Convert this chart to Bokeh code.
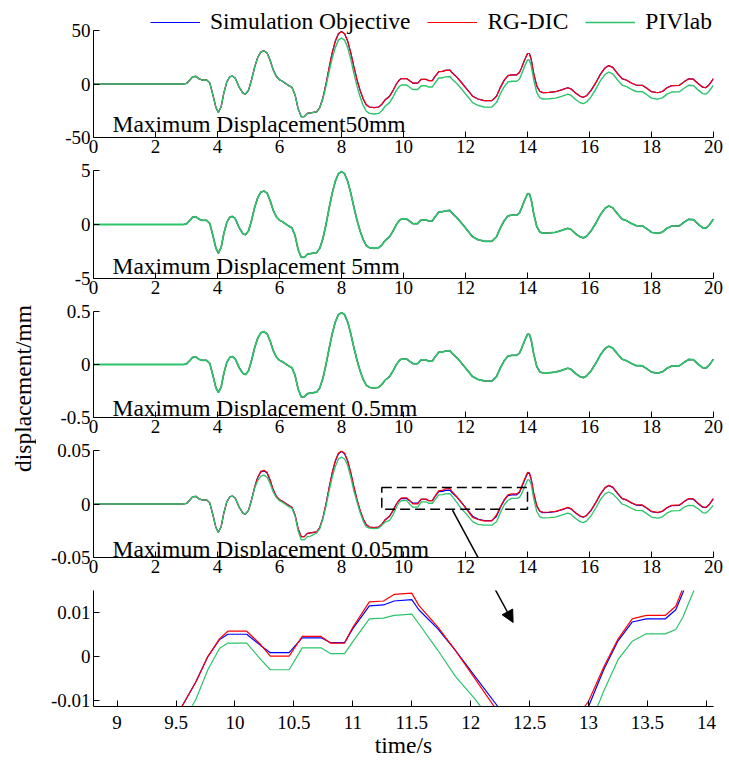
import math
from bokeh.plotting import figure
from bokeh.layouts import column, row
from bokeh.models import (Range1d, FixedTicker, CustomJSTickFormatter, Label, Legend,
                          LegendItem, Arrow, NormalHead, BoxAnnotation)
from bokeh.embed import file_html
from bokeh.resources import INLINE

# ---------------- data ----------------
time_s = [0, 2.9, 3.0, 3.1, 3.2, 3.3, 3.4, 3.5, 3.65, 3.75,
          3.85, 3.95, 4.03, 4.12, 4.2, 4.3, 4.4, 4.48, 4.57, 4.7,
          4.82, 4.9, 5.0, 5.1, 5.2, 5.3, 5.4, 5.5, 5.6, 5.7,
          5.8, 5.9, 6.0, 6.1, 6.2, 6.3, 6.4, 6.5, 6.6, 6.7,
          6.8, 6.9, 7.0, 7.2, 7.3, 7.4, 7.5, 7.6, 7.7, 7.8,
          7.9, 8.0, 8.1, 8.2, 8.3, 8.4, 8.5, 8.6, 8.7, 8.8,
          8.9, 9.05, 9.2, 9.3, 9.4, 9.55, 9.67, 9.77, 9.87, 9.94,
          10.1, 10.22, 10.3, 10.46, 10.57, 10.73, 10.81, 10.93, 11.0, 11.14,
          11.26, 11.35, 11.5, 11.56, 11.72, 11.87, 12.03, 12.23, 12.4, 12.6,
          12.85, 13.0, 13.13, 13.25, 13.37, 13.49, 13.65, 13.74, 13.8, 13.9,
          14.0, 14.06, 14.12, 14.2, 14.3, 14.4, 14.5, 14.7, 14.9, 15.1,
          15.3, 15.4, 15.55, 15.7, 15.8, 15.9, 16.05, 16.2, 16.35, 16.5,
          16.62, 16.75, 16.9, 17.05, 17.2, 17.35, 17.5, 17.7, 17.85, 18.0,
          18.2, 18.35, 18.5, 18.65, 18.9, 19.05, 19.2, 19.35, 19.5, 19.65,
          19.75, 19.85, 20.0]

sim_50 = [0, 0, 0.5, 3.5, 6.8, 7.2, 5, 3.8, 3.8, 1,
          -10, -22, -26.5, -21, -9, 2, 6.8, 7.5, 5.5, -3,
          -8.5, -9.5, -6, 4, 16, 25, 30, 31, 29, 22,
          13, 7, 4, 2.5, 0.5, -1.5, -3, -10, -23, -30.5,
          -30.5, -27.5, -27, -26, -22, -13, 0, 15, 29, 40,
          47, 49, 47, 40, 29, 16, 4, -6, -14, -19.5,
          -21.5, -22, -21.5, -19, -15, -11.4, -5.7, 0, 3.9, 5.1,
          5.1, 2.5, 0.9, 0.9, 4.3, 4.3, 3.2, 3.2, 6.4, 11.6,
          11.8, 12.7, 13, 10.7, 6.4, 1.4, -4.3, -11.4, -14, -15.5,
          -15.6, -11.4, -2.9, 3.6, 7.9, 8.6, 8.6, 10.7, 14.6, 22,
          28.5, 28.5, 23, 10, -2, -7, -8, -7.8, -7.2, -5.5,
          -3.5, -4.5, -8.5, -11.5, -12.4, -11, -6, 1, 9, 15,
          17.2, 15.5, 10, 5, 3.5, 1, -1, -1.2, -4, -7.2,
          -8.2, -7, -3.5, -1.5, -1.2, 2, 4.8, 4.5, 0.5, -3,
          -3.5, -1, 5]

piv_50 = [0, 0, 0.5, 3.5, 6.8, 7.2, 5, 3.8, 3.8, 1,
          -10, -22, -26.5, -21, -9, 2, 6.8, 7.5, 5.5, -3,
          -8.5, -9.5, -6, 4, 16, 25, 30, 31, 29, 22,
          13, 7, 4, 2.5, 0.5, -1.5, -3, -10, -23, -30.5,
          -30.5, -27.5, -27, -26, -22, -14, -2, 11.5, 24, 34,
          41, 43, 41, 34, 23, 10, -2, -12, -20, -25.5,
          -27.5, -28, -27.5, -25, -21, -17.4, -11.7, -6, -2.1, -0.9,
          -0.9, -3.5, -5.1, -5.1, -1.7, -1.7, -2.8, -2.8, 0.4, 5.6,
          5.8, 6.7, 7, 4.7, 0.4, -4.6, -10.3, -17.4, -20, -21.5,
          -21.6, -17.4, -8.9, -2.4, 1.9, 2.6, 2.6, 4.7, 8.6, 16,
          22.5, 22.5, 17, 4, -8, -13, -14, -13.8, -13.2, -11.5,
          -9.5, -10.5, -14.5, -17.5, -18.4, -17, -12, -5, 3, 9,
          11.2, 9.5, 4, -1, -2.5, -5, -7, -7.2, -10, -13.2,
          -14.2, -13, -9.5, -7.5, -7.2, -4, -1.2, -1.5, -5.5, -9,
          -9.5, -7, -1]

sim_5 = [0, 0, 0.05, 0.35, 0.68, 0.72, 0.5, 0.38, 0.38, 0.1,
         -1.0, -2.2, -2.65, -2.1, -0.9, 0.2, 0.68, 0.75, 0.55, -0.3,
         -0.85, -0.95, -0.6, 0.4, 1.6, 2.5, 3.0, 3.1, 2.9, 2.2,
         1.3, 0.7, 0.4, 0.25, 0.05, -0.15, -0.3, -1.0, -2.3, -3.05,
         -3.05, -2.75, -2.7, -2.6, -2.2, -1.3, 0.0, 1.5, 2.9, 4.0,
         4.7, 4.9, 4.7, 4.0, 2.9, 1.6, 0.4, -0.6, -1.4, -1.95,
         -2.15, -2.2, -2.15, -1.9, -1.5, -1.14, -0.57, 0.0, 0.39, 0.51,
         0.51, 0.25, 0.09, 0.09, 0.43, 0.43, 0.32, 0.32, 0.64, 1.16,
         1.18, 1.27, 1.3, 1.07, 0.64, 0.14, -0.43, -1.14, -1.4, -1.55,
         -1.56, -1.14, -0.29, 0.36, 0.79, 0.86, 0.86, 1.07, 1.46, 2.2,
         2.85, 2.85, 2.3, 1.0, -0.2, -0.7, -0.8, -0.78, -0.72, -0.55,
         -0.35, -0.45, -0.85, -1.15, -1.24, -1.1, -0.6, 0.1, 0.9, 1.5,
         1.72, 1.55, 1.0, 0.5, 0.35, 0.1, -0.1, -0.12, -0.4, -0.72,
         -0.82, -0.7, -0.35, -0.15, -0.12, 0.2, 0.48, 0.45, 0.05, -0.3,
         -0.35, -0.1, 0.5]

sim_05 = [0, 0, 0.005, 0.035, 0.068, 0.072, 0.05, 0.038, 0.038, 0.01,
          -0.1, -0.22, -0.265, -0.21, -0.09, 0.02, 0.068, 0.075, 0.055, -0.03,
          -0.085, -0.095, -0.06, 0.04, 0.16, 0.25, 0.3, 0.31, 0.29, 0.22,
          0.13, 0.07, 0.04, 0.025, 0.005, -0.015, -0.03, -0.1, -0.23, -0.305,
          -0.305, -0.275, -0.27, -0.26, -0.22, -0.13, 0, 0.15, 0.29, 0.4,
          0.47, 0.49, 0.47, 0.4, 0.29, 0.16, 0.04, -0.06, -0.14, -0.195,
          -0.215, -0.22, -0.215, -0.19, -0.15, -0.114, -0.057, 0, 0.039, 0.051,
          0.051, 0.025, 0.009, 0.009, 0.043, 0.043, 0.032, 0.032, 0.064, 0.116,
          0.118, 0.127, 0.13, 0.107, 0.064, 0.014, -0.043, -0.114, -0.14, -0.155,
          -0.156, -0.114, -0.029, 0.036, 0.079, 0.086, 0.086, 0.107, 0.146, 0.22,
          0.285, 0.285, 0.23, 0.1, -0.02, -0.07, -0.08, -0.078, -0.072, -0.055,
          -0.035, -0.045, -0.085, -0.115, -0.124, -0.11, -0.06, 0.01, 0.09, 0.15,
          0.172, 0.155, 0.1, 0.05, 0.035, 0.01, -0.01, -0.012, -0.04, -0.072,
          -0.082, -0.07, -0.035, -0.015, -0.012, 0.02, 0.048, 0.045, 0.005, -0.03,
          -0.035, -0.01, 0.05]

sim_005 = [0, 0, 0.0005, 0.0035, 0.0068, 0.0072, 0.005, 0.0038, 0.0038, 0.001,
           -0.01, -0.022, -0.0265, -0.021, -0.009, 0.002, 0.0068, 0.0075, 0.0055, -0.003,
           -0.0085, -0.0095, -0.006, 0.004, 0.016, 0.025, 0.03, 0.031, 0.029, 0.022,
           0.013, 0.007, 0.004, 0.0025, 0.0005, -0.0015, -0.003, -0.01, -0.023, -0.0305,
           -0.0305, -0.0275, -0.027, -0.026, -0.022, -0.013, 0, 0.015, 0.029, 0.04,
           0.047, 0.049, 0.047, 0.04, 0.029, 0.016, 0.004, -0.006, -0.014, -0.0195,
           -0.0215, -0.022, -0.0215, -0.019, -0.015, -0.0114, -0.0057, 0, 0.0039, 0.0051,
           0.0051, 0.0025, 0.0009, 0.0009, 0.0043, 0.0043, 0.0032, 0.0032, 0.0064, 0.0116,
           0.0118, 0.0127, 0.013, 0.0107, 0.0064, 0.0014, -0.0043, -0.0114, -0.014, -0.0155,
           -0.0156, -0.0114, -0.0029, 0.0036, 0.0079, 0.0086, 0.0086, 0.0107, 0.0146, 0.022,
           0.0285, 0.0285, 0.023, 0.01, -0.002, -0.007, -0.008, -0.0078, -0.0072, -0.0055,
           -0.0035, -0.0045, -0.0085, -0.0115, -0.0124, -0.011, -0.006, 0.001, 0.009, 0.015,
           0.0172, 0.0155, 0.01, 0.005, 0.0035, 0.001, -0.001, -0.0012, -0.004, -0.0072,
           -0.0082, -0.007, -0.0035, -0.0015, -0.0012, 0.002, 0.0048, 0.0045, 0.0005, -0.003,
           -0.0035, -0.001, 0.005]

rg_005 = [0, 0, 0.0005, 0.0035, 0.0068, 0.0072, 0.005, 0.0038, 0.0038, 0.001,
          -0.01, -0.022, -0.0265, -0.021, -0.009, 0.002, 0.0068, 0.0075, 0.0055, -0.003,
          -0.0085, -0.0095, -0.006, 0.004, 0.016, 0.0253, 0.0305, 0.0315, 0.0294, 0.0222,
          0.013, 0.007, 0.004, 0.0025, 0.0005, -0.0015, -0.003, -0.01, -0.023, -0.0305,
          -0.0305, -0.0275, -0.027, -0.026, -0.022, -0.013, 0, 0.015, 0.029, 0.0403,
          0.0475, 0.0495, 0.0475, 0.0403, 0.029, 0.016, 0.004, -0.006, -0.014, -0.0195,
          -0.0215, -0.022, -0.0215, -0.019, -0.015, -0.0114, -0.0057, 0, 0.0041, 0.0058,
          0.0058, 0.0027, 0.0001, 0.0001, 0.0046, 0.0046, 0.0031, 0.0031, 0.0067, 0.0125,
          0.0127, 0.0142, 0.0145, 0.0117, 0.0068, 0.0014, -0.0048, -0.0126, -0.0145, -0.0158,
          -0.0158, -0.0102, -0.0023, 0.004, 0.0086, 0.0094, 0.0094, 0.0115, 0.0156, 0.023,
          0.0295, 0.0293, 0.0233, 0.0103, -0.0017, -0.0067, -0.0077, -0.0075, -0.0069, -0.0052,
          -0.0032, -0.0042, -0.0082, -0.0112, -0.0121, -0.0107, -0.0057, 0.0013, 0.0093, 0.0153,
          0.0175, 0.0158, 0.0103, 0.0053, 0.0038, 0.0013, -0.0007, -0.0009, -0.0037, -0.0069,
          -0.0079, -0.0067, -0.0032, -0.0012, -0.0009, 0.0023, 0.0051, 0.0048, 0.0008, -0.0027,
          -0.0032, -0.0007, 0.0053]

piv_005 = [0, 0, 0.0005, 0.0035, 0.0068, 0.0072, 0.005, 0.0038, 0.0038, 0.001,
           -0.01, -0.022, -0.0265, -0.021, -0.009, 0.002, 0.0068, 0.0075, 0.0055, -0.003,
           -0.0085, -0.0095, -0.006, 0.004, 0.015, 0.022, 0.026, 0.027, 0.025, 0.019,
           0.011, 0.006, 0.003, 0.0015, -0.0005, -0.0025, -0.004, -0.011, -0.025, -0.0335,
           -0.0335, -0.0305, -0.03, -0.027, -0.023, -0.014, -0.002, 0.012, 0.025, 0.035,
           0.042, 0.044, 0.042, 0.036, 0.025, 0.012, 0.002, -0.008, -0.016, -0.0215,
           -0.0225, -0.023, -0.0225, -0.02, -0.017, -0.0154, -0.0097, -0.003, 0.0019, 0.0031,
           0.0031, -0.0007, -0.003, -0.003, 0.002, 0.002, 0.0007, 0.0007, 0.0034, 0.0086,
           0.0088, 0.0094, 0.0097, 0.0075, 0.0015, -0.0045, -0.0095, -0.0165, -0.019, -0.0198,
           -0.0198, -0.0165, -0.0078, -0.0007, 0.0035, 0.0052, 0.0052, 0.0062, 0.009, 0.0155,
           0.0225, 0.0225, 0.018, 0.005, -0.007, -0.012, -0.013, -0.0128, -0.0122, -0.0105,
           -0.0085, -0.0095, -0.0135, -0.0165, -0.0174, -0.016, -0.011, -0.004, 0.004, 0.0095,
           0.0112, 0.0095, 0.005, 0.0, -0.0015, -0.004, -0.006, -0.0062, -0.009, -0.0122,
           -0.0132, -0.012, -0.0085, -0.0065, -0.0062, -0.003, -0.0012, -0.0015, -0.0045, -0.008,
           -0.0085, -0.006, -0.001]

# In the 50/5/0.5 mm panels the hidden traces coincide with the visible ones
rg_50 = sim_50
rg_5, piv_5 = sim_5, sim_5
rg_05, piv_05 = sim_05, sim_05

series_names = ["Simulation Objective", "RG-DIC", "PIVlab"]
panel_titles = ["Maximum Displacement50mm", "Maximum Displacement 5mm",
                "Maximum Displacement 0.5mm", "Maximum Displacement 0.05mm"]
panel_limits = [50, 5, 0.5, 0.05]
panel_series = [(sim_50, rg_50, piv_50), (sim_5, rg_5, piv_5),
                (sim_05, rg_05, piv_05), (sim_005, rg_005, piv_005)]
x_ticks = [0, 2, 4, 6, 8, 10, 12, 14, 16, 18, 20]
zoom_x_ticks = [9, 9.5, 10, 10.5, 11, 11.5, 12, 12.5, 13, 13.5, 14]
zoom_y_ticks = [-0.01, 0, 0.01]
zoom_x_range = (8.8, 14.06)
zoom_y_range = (-0.0114, 0.0151)
zoom_box = (9.3, 14.0, -0.005, 0.0155)   # left, right, bottom, top

# ---------------- styling ----------------
FONT = "Liberation Serif"
COLORS = ["#0000FF", "#FF0000", "#2BC46A"]
panel_widths = [[1.2, 1.2, 1.4], [1.2, 1.2, 1.8], [1.2, 1.2, 1.8], [1.2, 1.2, 1.3]]
ZOOM_WIDTHS = [1.2, 1.2, 1.2]
FRAME_W = 620
YLAB_W = 36
LEFT_B, RIGHT_B = 57, 14
axis_hs = [107, 108, 106, 107]      # pixel height of each axis box
tops = [0, 12, 12, 12]
bottoms = [21, 21, 21, 21]
LEGEND_ROOM = 30                    # extra frame room above the first panel for the legend
text_off = [14, 13, 10, 9]
Z_FRAME_H, Z_TOP, Z_BOTTOM = 116, 12, 54

fmt = CustomJSTickFormatter(code="return String(tick);")


def style(p, xt, yt, xstand):
    p.outline_line_color = None
    p.grid.visible = False
    p.xaxis.ticker = FixedTicker(ticks=xt)
    p.yaxis.ticker = FixedTicker(ticks=yt)
    for ax in (p.xaxis[0], p.yaxis[0]):
        ax.formatter = fmt
        ax.axis_line_color = "black"
        ax.major_tick_line_color = "black"
        ax.major_tick_in = 6
        ax.major_tick_out = 0
        ax.minor_tick_line_color = None
        ax.major_label_text_font = FONT
        ax.major_label_text_font_size = "19px"
        ax.major_label_text_color = "black"
        ax.axis_label_text_font = FONT
        ax.axis_label_text_font_style = "normal"
        ax.axis_label_text_font_size = "23.5px"
        ax.axis_label_text_color = "black"
    p.xaxis.major_label_standoff = xstand
    p.yaxis.major_label_standoff = 3


panels = []
for k in range(4):
    lim = panel_limits[k]
    extra = LEGEND_ROOM if k == 0 else 0
    fh = axis_hs[k] + extra
    top_val = lim + extra / axis_hs[k] * 2 * lim
    p = figure(frame_width=FRAME_W, frame_height=fh,
               x_range=Range1d(0, 20), y_range=Range1d(-lim, top_val),
               output_backend="svg", toolbar_location=None,
               min_border_left=LEFT_B, min_border_right=RIGHT_B,
               min_border_top=tops[k], min_border_bottom=bottoms[k])
    style(p, x_ticks, [-lim, 0, lim], 2)
    p.yaxis.bounds = (-lim, lim)
    rs = []
    for s, c, w in zip(panel_series[k], COLORS, panel_widths[k]):
        rs.append(p.line(time_s, s, line_color=c, line_width=w))
    p.add_layout(Label(x=19 / FRAME_W * 20, y=-lim + text_off[k] / axis_hs[k] * 2 * lim,
                       text=panel_titles[k], text_font=FONT, text_font_size="23.5px",
                       text_color="black", text_baseline="alphabetic"))
    if k == 0:
        leg = Legend(items=[LegendItem(label=n, renderers=[r]) for n, r in zip(series_names, rs)],
                     orientation="horizontal", location=(57, fh - 35),
                     label_text_font=FONT, label_text_font_size="23.5px",
                     label_text_color="black",
                     glyph_width=50, glyph_height=20, label_standoff=10, spacing=17,
                     padding=0, margin=0, border_line_color=None,
                     background_fill_alpha=0)
        p.add_layout(leg, "center")
    panels.append(p)

# dashed window and first part of the arrow on the 0.05 mm panel
p4 = panels[3]
p4.add_layout(BoxAnnotation(left=zoom_box[0], right=zoom_box[1], bottom=zoom_box[2], top=zoom_box[3],
                            fill_alpha=0, line_alpha=1, line_color="black", line_dash="10 5",
                            line_width=1.5))
p4.add_layout(Arrow(end=None, x_start=11.58, y_start=-0.0058, x_end=12.77, y_end=-0.0696,
                    line_color="black", line_width=1.5))

# zoomed panel
p5 = figure(frame_width=FRAME_W, frame_height=Z_FRAME_H,
            x_range=Range1d(*zoom_x_range), y_range=Range1d(*zoom_y_range),
            output_backend="svg", toolbar_location=None,
            min_border_left=LEFT_B, min_border_right=RIGHT_B,
            min_border_top=Z_TOP, min_border_bottom=Z_BOTTOM)
style(p5, zoom_x_ticks, zoom_y_ticks, 9)
p5.xaxis.axis_label = "time/s"
p5.xaxis.axis_label_standoff = 0
for s, c, w in zip(panel_series[3], COLORS, ZOOM_WIDTHS):
    p5.line(time_s, s, line_color=c, line_width=w)
p5.add_layout(Arrow(end=NormalHead(size=12, fill_color="black", line_color="black"),
                    x_start=12.158, y_start=0.0178, x_end=12.36, y_end=0.0078,
                    line_color="black", line_width=1.5))
panels.append(p5)

total_h = (sum(tops) + sum(axis_hs) + LEGEND_ROOM + sum(bottoms)
           + Z_TOP + Z_FRAME_H + Z_BOTTOM)
ylab = figure(width=YLAB_W, height=total_h, x_range=Range1d(0, 1), y_range=Range1d(0, 1),
              output_backend="svg", toolbar_location=None, min_border=0,
              x_axis_type=None, y_axis_type=None)
ylab.outline_line_color = None
ylab.grid.visible = False
ylab.add_layout(Label(x=22 / YLAB_W, y=1 - 388 / total_h, text="displacement/mm", angle=math.pi / 2,
                      text_font=FONT, text_font_size="23.5px", text_color="black",
                      text_align="center", text_baseline="middle"))

layout = row(ylab, column(*panels, spacing=0), spacing=0)
open("out.html", "w").write(file_html(layout, INLINE))
